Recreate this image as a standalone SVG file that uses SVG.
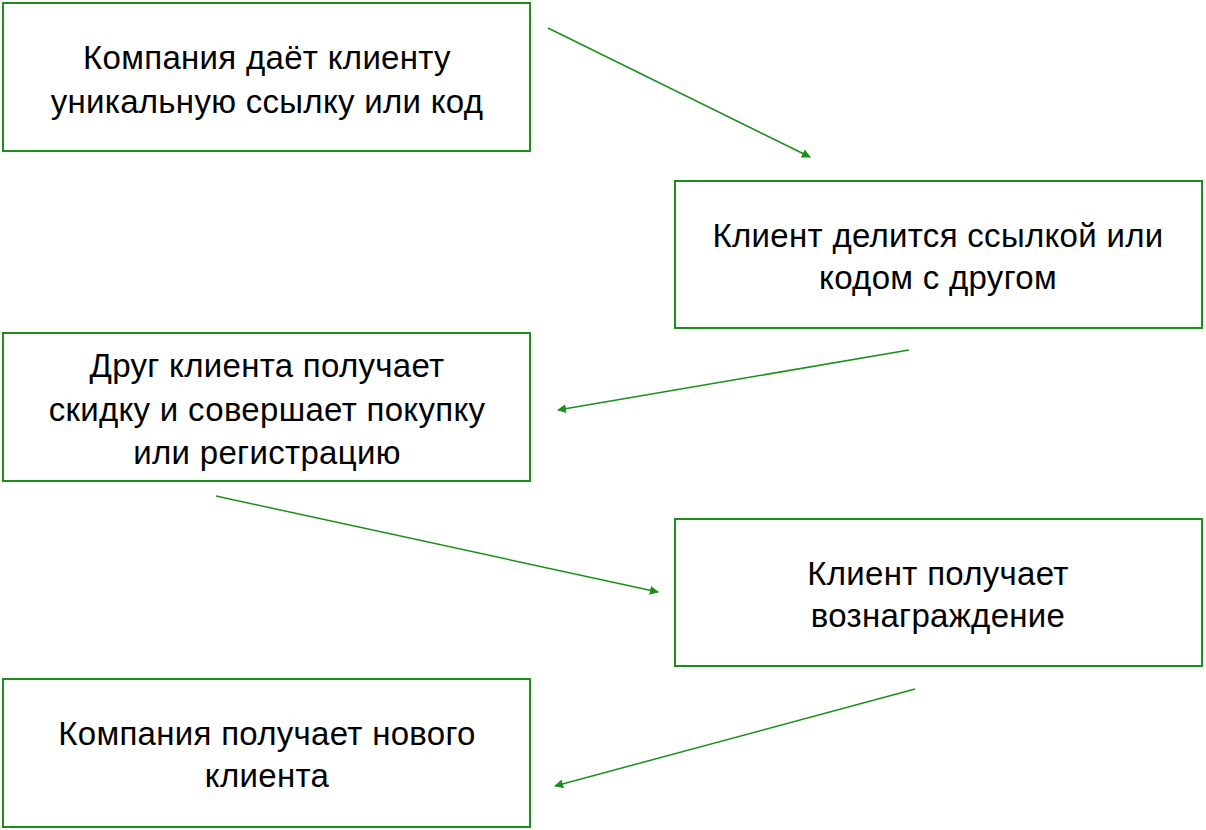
<svg xmlns="http://www.w3.org/2000/svg" width="1206" height="830" viewBox="0 0 1206 830">
<style>
.b{fill:#fff;stroke:#1a8f1a;stroke-width:2}
.t{font-family:"Liberation Sans",Arial,sans-serif;font-size:33px;letter-spacing:0.3px;fill:#000;text-anchor:middle}
.c{stroke:#1a8f1a;stroke-width:1.5;fill:none;marker-end:url(#a)}
</style>
<defs><marker id="a" viewBox="0 0 10 10" refX="9" refY="5" markerWidth="9" markerHeight="9" markerUnits="userSpaceOnUse" orient="auto"><path d="M0,0L10,5L0,10z" fill="#1a8f1a"/></marker></defs>
<rect width="1206" height="830" fill="#fff"/>
<g id="n1"><rect class="b" x="3" y="3" width="527" height="148"/><text class="t" x="267" y="69">Компания даёт клиенту</text><text class="t" x="267" y="113">уникальную ссылку или код</text></g>
<g id="n2"><rect class="b" x="675" y="181" width="527" height="147"/><text class="t" x="938" y="247">Клиент делится ссылкой или</text><text class="t" x="938" y="289">кодом с другом</text></g>
<g id="n3"><rect class="b" x="3" y="333" width="527" height="148"/><text class="t" x="267" y="377">Друг клиента получает</text><text class="t" x="267" y="421">скидку и совершает покупку</text><text class="t" x="267" y="464">или регистрацию</text></g>
<g id="n4"><rect class="b" x="675" y="519" width="527" height="147"/><text class="t" x="938" y="585">Клиент получает</text><text class="t" x="938" y="627">вознаграждение</text></g>
<g id="n5"><rect class="b" x="3" y="679" width="527" height="148"/><text class="t" x="267" y="745">Компания получает нового</text><text class="t" x="267" y="787">клиента</text></g>
<g id="connectors">
<line class="c" x1="548" y1="28" x2="810" y2="157"/>
<line class="c" x1="909" y1="350" x2="558" y2="410"/>
<line class="c" x1="216" y1="496" x2="658" y2="592"/>
<line class="c" x1="915" y1="689" x2="555" y2="786"/>
</g>
</svg>
